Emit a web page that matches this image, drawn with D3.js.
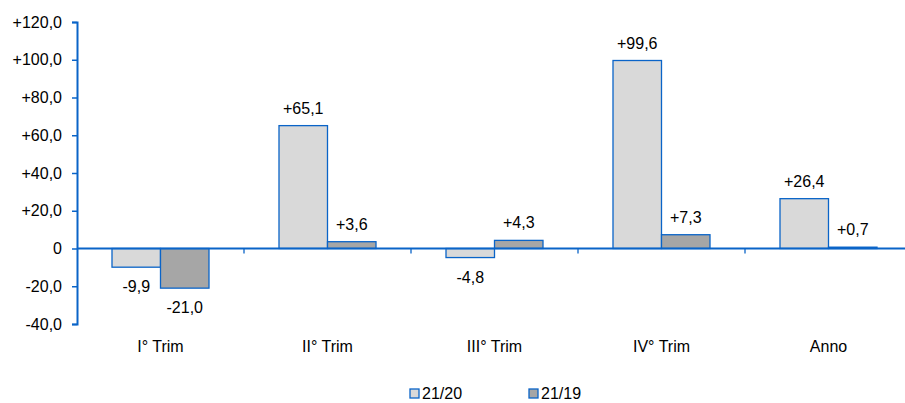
<!DOCTYPE html>
<html>
<head>
<meta charset="utf-8">
<script src="https://cdn.jsdelivr.net/npm/d3@7"></script>
<style>
body { margin: 0; background: #fff; }
text { font-family: "Liberation Sans", Arial, sans-serif; fill: #000; }
</style>
</head>
<body>
<div id="chart"></div>
<script>
// Data
var categories = ["I° Trim", "II° Trim", "III° Trim", "IV° Trim", "Anno"];
var seriesNames = ["21/20", "21/19"];
var values2120 = [-9.9, 65.1, -4.8, 99.6, 26.4];
var values2119 = [-21.0, 3.6, 4.3, 7.3, 0.7];
var yTicks = [-40, -20, 0, 20, 40, 60, 80, 100, 120];

var width = 905, height = 403;
var margin = {top: 22, left: 77};
var blue = "#0a64c8";
var colors = ["#d9d9d9", "#a6a6a6"];
var fontSize = "16px";

var svg = d3.select("#chart").append("svg")
	.attr("width", width)
	.attr("height", height);

// Scales
var y = d3.scaleLinear().domain([-40, 120]).range([324, margin.top]);
var x = d3.scaleBand().domain(categories).range([margin.left, margin.left + 167 * 5]);
var xs = d3.scaleBand().domain(seriesNames).range([35, 132]);

function fmt(v) {
	if (v === 0) return "0";
	var s = d3.format(".1f")(Math.abs(v)).replace(".", ",");
	return (v > 0 ? "+" : "-") + s;
}

// Bars
var series = [values2120, values2119];
series.forEach(function(vals, si) {
	svg.append("g")
		.selectAll("rect")
		.data(vals)
		.enter().append("rect")
		.attr("x", (d, i) => x(categories[i]) + xs(seriesNames[si]))
		.attr("y", d => y(Math.max(0, d)))
		.attr("width", xs.bandwidth())
		.attr("height", d => Math.abs(y(d) - y(0)))
		.attr("fill", colors[si])
		.attr("stroke", blue)
		.attr("stroke-width", 1.3);

	svg.append("g")
		.selectAll("text")
		.data(vals)
		.enter().append("text")
		.attr("x", (d, i) => x(categories[i]) + xs(seriesNames[si]) + xs.bandwidth() / 2)
		.attr("y", d => d >= 0 ? y(d) - 12 : y(d) + 25)
		.attr("text-anchor", "middle")
		.style("font-size", fontSize)
		.text(fmt);
});

// Y axis
var yAxis = d3.axisLeft(y).tickValues(yTicks).tickSize(5).tickFormat(fmt);
var gy = svg.append("g").attr("transform", "translate(" + margin.left + ",0)").call(yAxis);
gy.select(".domain").attr("stroke", blue).attr("stroke-width", 2);
gy.selectAll(".tick line").attr("stroke", blue).attr("stroke-width", 1.5);
gy.selectAll(".tick text").attr("x", -15).style("font-size", fontSize).style("font-family", "Liberation Sans, Arial, sans-serif").attr("fill", "#000");

// Zero line and category ticks
svg.append("line")
	.attr("x1", margin.left).attr("x2", width)
	.attr("y1", y(0)).attr("y2", y(0))
	.attr("stroke", blue).attr("stroke-width", 2);

svg.append("g")
	.selectAll("line")
	.data(categories.slice(1))
	.enter().append("line")
	.attr("x1", d => x(d)).attr("x2", d => x(d))
	.attr("y1", y(0)).attr("y2", y(0) + 5)
	.attr("stroke", blue).attr("stroke-width", 1.3);

// Category labels
svg.append("g")
	.selectAll("text")
	.data(categories)
	.enter().append("text")
	.attr("x", d => x(d) + x.bandwidth() / 2)
	.attr("y", 352)
	.attr("text-anchor", "middle")
	.style("font-size", fontSize)
	.text(d => d);

// Legend
var legendX = [410, 529];
var legend = svg.append("g")
	.selectAll("g")
	.data(seriesNames)
	.enter().append("g")
	.attr("transform", (d, i) => "translate(" + legendX[i] + ",389)");
legend.append("rect")
	.attr("width", 9).attr("height", 9)
	.attr("fill", (d, i) => colors[i])
	.attr("stroke", blue).attr("stroke-width", 1.3);
legend.append("text")
	.attr("x", 12).attr("y", 9.5)
	.style("font-size", fontSize)
	.text(d => d);
</script>
</body>
</html>
